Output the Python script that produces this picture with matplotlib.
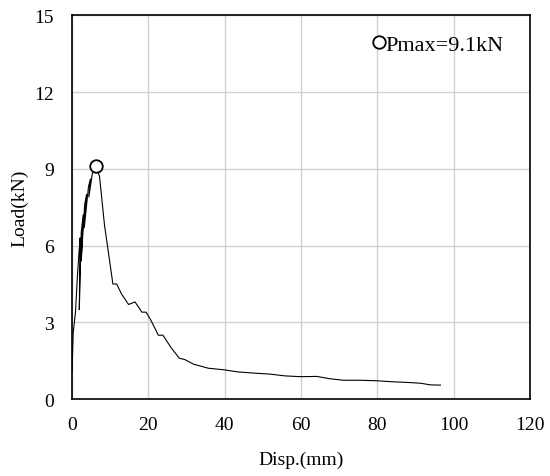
import matplotlib
matplotlib.use('Agg')
import matplotlib.pyplot as plt

# load-displacement readings (mm, kN)
disp = [0.0, 0.3, 0.9, 1.4, 1.9, 2.1, 1.9, 2.4, 2.9, 2.4, 3.3, 3.8, 3.2, 4.3, 4.8, 4.4, 5.3, 5.8, 6.3,
        7.2, 8.5, 10.7, 11.7, 13.0, 14.8, 16.5, 18.3, 19.4, 20.6, 22.6, 23.8, 26.0, 28.1, 29.5,
        31.8, 35.7, 39.7, 43.2, 47.5, 51.9, 55.8, 60.0, 64.1, 67.5, 71.1, 75.5, 79.9, 84.0, 88.6,
        91.5, 93.8, 96.5]
load = [1.1, 2.6, 3.4, 4.8, 5.9, 6.3, 3.5, 6.5, 7.2, 5.4, 7.6, 8.0, 6.7, 8.3, 8.6, 7.9, 8.8, 9.0, 9.1,
        8.7, 6.8, 4.5, 4.5, 4.1, 3.7, 3.8, 3.4, 3.4, 3.1, 2.5, 2.5, 2.0, 1.6, 1.55,
        1.37, 1.21, 1.15, 1.07, 1.02, 0.98, 0.91, 0.88, 0.89, 0.8, 0.74, 0.74, 0.72, 0.68, 0.65,
        0.62, 0.56, 0.55]
peak_disp = [6.3]
peak_load = [9.1]

plt.rcParams['font.family'] = ['Liberation Serif', 'DejaVu Serif']
plt.rcParams['font.size'] = 14

fig = plt.figure(figsize=(5.5, 4.77), dpi=100)
ax = fig.add_axes([0.131, 0.161, 0.833, 0.805])
ax.plot(disp, load, color='k', lw=0.8)
ax.plot(peak_disp, peak_load, 'o', mfc='white', mec='k', ms=9, mew=1.3,
        label='Pmax=9.1kN', zorder=5)
ax.set_xlim(0, 120)
ax.set_ylim(0, 15)
ax.set_xticks(range(0, 121, 20))
ax.set_yticks(range(0, 16, 3))
ax.grid(True, color='#d0d0d0', lw=1)
ax.set_axisbelow(True)
ax.tick_params(axis='x', length=0, pad=12)
ax.tick_params(axis='y', length=0, pad=13)
for s in ax.spines.values():
    s.set_linewidth(1.2)
ax.set_xlabel('Disp.(mm)', labelpad=13)
ax.set_ylabel('Load(kN)', labelpad=4)
leg = ax.legend(loc='upper right', bbox_to_anchor=(0.957, 0.965), frameon=False,
                handletextpad=0.0, handlelength=0.6, handleheight=0.5,
                borderaxespad=0, borderpad=0.3, fontsize=16)
fig.savefig('out.png', dpi=100)
